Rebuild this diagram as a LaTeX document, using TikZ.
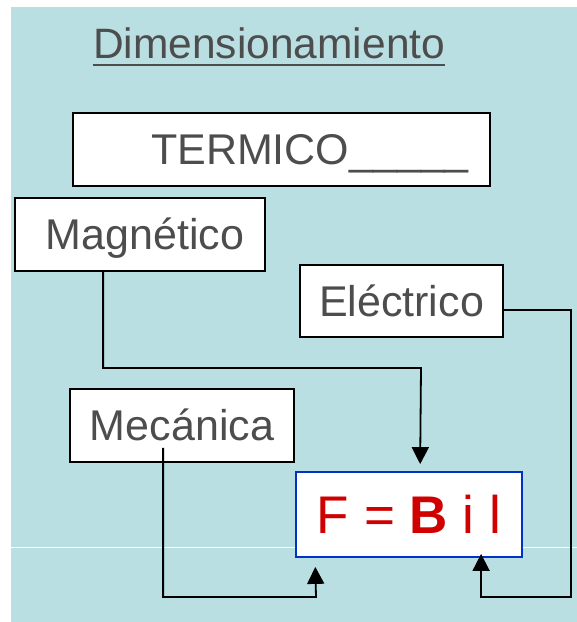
\documentclass[tikz,border=0pt]{standalone}
\usepackage{fontspec}
\setmainfont{Liberation Sans}
\usetikzlibrary{arrows.meta}
\definecolor{bg}{RGB}{185,223,226}
\definecolor{txt}{RGB}{77,77,77}
\definecolor{fblue}{RGB}{0,50,200}
\definecolor{fred}{RGB}{208,0,0}
\begin{document}
\begin{tikzpicture}[x=1pt,y=-1pt,
  box/.style={draw=black, line width=1.8pt, fill=white, inner sep=0pt, text=txt,
    font=\fontsize{43}{48}\selectfont, text height=30pt, text depth=0pt},
  conn/.style={draw=black, line width=1.8pt, -{Triangle[width=17pt,length=17pt]}}]
\useasboundingbox (0,0) rectangle (577,622);
\fill[bg] (11,7) rectangle (577,622);
\draw[white, line width=1pt] (11,547) -- (577,547);

\node[anchor=base west, inner sep=0pt, text=txt, font=\fontsize{42.5}{48}\selectfont] (title) at (93,58) {Dimensionamiento};
\draw[txt, line width=2.5pt] ([yshift=-7pt]title.base west) -- ([yshift=-7pt]title.base east);

\node[box, minimum width=417pt, minimum height=73pt] (term) at (281.5,149.5) {\hspace*{57pt}TERMICO\_\_\_\_\_};
\node[box, minimum width=250pt, minimum height=73pt] (mag) at (140,234.5) {\hspace*{10pt}Magnético};
\node[box, minimum width=203pt, minimum height=72pt] (elec) at (401.5,301) {Eléctrico};
\node[box, minimum width=224pt, minimum height=73pt] (mec) at (182,425.5) {Mecánica};
\node[box, draw=fblue, text=fred, minimum width=226pt, minimum height=85pt,
  font=\fontsize{53}{60}\selectfont, text height=38pt] (F) at (409,514.5) {F = \textbf{B} i l};

\coordinate (mturn) at (421,368);
\coordinate (eturn) at (571,597);
\coordinate (mbot) at (316,597);

\draw[conn, shorten >=7pt] ([xshift=89pt]mag.south west) |- (mturn) -- ([xshift=125pt]F.north west);
\draw[conn, shorten >=-4pt] ([yshift=-9pt]elec.east) -| (eturn) -| ([xshift=186pt]F.south west);
\draw[conn, shorten >=9pt] ([xshift=94pt,yshift=15pt]mec.south west) |- (mbot) -- ([xshift=20pt]F.south west);
\end{tikzpicture}
\end{document}
